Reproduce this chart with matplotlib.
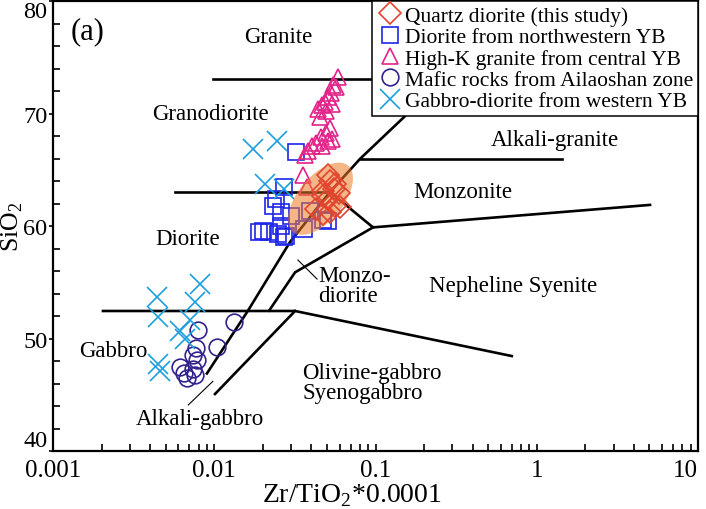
import numpy as np
import matplotlib.pyplot as plt
from matplotlib.ticker import LogLocator, FuncFormatter, MultipleLocator, NullFormatter

plt.rcParams['font.family'] = ['Liberation Serif', 'DejaVu Serif']
plt.rcParams['mathtext.fontset'] = 'custom'
plt.rcParams['mathtext.rm'] = 'Liberation Serif'

# Zr/TiO2*0.0001 (x) and SiO2 wt% (y)
qd_x = [0.051, 0.052, 0.056, 0.055, 0.047, 0.047, 0.051, 0.060, 0.043, 0.047, 0.052, 0.056, 0.059]
qd_y = [64.6, 64.0, 63.8, 63.3, 63.1, 62.7, 62.4, 61.7, 61.5, 61.1, 61.3, 61.8, 63.0]

nw_x = [0.032, 0.027, 0.024, 0.023, 0.026, 0.020, 0.019, 0.022, 0.025, 0.027,
        0.026, 0.030, 0.036, 0.039, 0.047, 0.051, 0.028]
nw_y = [66.6, 63.5, 62.4, 61.8, 61.3, 59.6, 59.5, 59.5, 59.3, 59.0,
        60.0, 60.9, 59.8, 61.4, 60.6, 60.5, 59.1]

hk_x = [0.0585, 0.0545, 0.053, 0.0507, 0.0486, 0.0466, 0.044, 0.0493, 0.0453, 0.0537, 0.0569,
        0.0522, 0.0493, 0.0459, 0.0507, 0.0428, 0.0404, 0.0382, 0.0365, 0.0466, 0.0537,
        0.0355, 0.0376]
hk_y = [73.3, 72.6, 71.9, 71.5, 71.1, 70.8, 70.4, 70.3, 69.7, 70.9, 72.4,
        68.7, 68.3, 67.9, 67.6, 67.4, 67.1, 66.7, 66.3, 67.1, 67.8,
        64.6, 63.5]

mf_x = [0.0079, 0.0133, 0.0104, 0.0077, 0.0074, 0.0078, 0.0074, 0.0061, 0.0065, 0.0076, 0.0068]
mf_y = [50.8, 51.5, 49.3, 49.2, 48.5, 48.1, 47.3, 47.5, 46.9, 46.8, 46.5]

gd_x = [0.0174, 0.0245, 0.0206, 0.0271, 0.0044, 0.0045, 0.0082, 0.0076, 0.0071,
        0.0061, 0.0066, 0.0045, 0.0046]
gd_y = [66.9, 67.6, 63.8, 63.3, 53.7, 51.9, 54.9, 53.3, 51.7,
        50.7, 50.0, 47.7, 47.1]

# tips of the shaded field around the quartz diorites
field_x = [0.0308, 0.0675]
field_y = [59.5, 65.4]

# classification boundaries (Winchester & Floyd type diagram)
bounds = [
    ([0.0098, 0.21], [73.1, 73.1]),
    ([0.0090, 0.0162, 0.0295, 0.0522, 0.0802, 0.1524, 0.21], [46.9, 52.5, 58.6, 63.05, 66.0, 69.8, 73.1]),
    ([0.0057, 0.0522], [63.05, 63.05]),
    ([0.0522, 0.0965, 5.04], [63.05, 59.9, 61.9]),
    ([0.0802, 1.44], [66.0, 66.0]),
    ([0.00204, 0.0317, 0.70], [52.46, 52.46, 48.45]),
    ([0.0101, 0.0317], [45.07, 52.46]),
    ([0.0219, 0.0317, 0.0965], [52.5, 55.9, 59.9]),
]
pointers = [
    ([0.0069, 0.0098], [44.1, 46.2]),
    ([0.0330, 0.0434], [57.0, 55.3]),
]

labels = [
    ('Granite', 0.0248, 76.9, 'center'),
    ('Granodiorite', 0.0094, 70.0, 'center'),
    ('Alkali-granite', 1.30, 67.7, 'center'),
    ('Monzonite', 0.349, 63.05, 'center'),
    ('Diorite', 0.0068, 58.9, 'center'),
    ('Monzo-\ndiorite', 0.044, 54.7, 'left'),
    ('Nepheline Syenite', 0.712, 54.7, 'center'),
    ('Gabbro', 0.00235, 48.9, 'center'),
    ('Olivine-gabbro\nSyenogabbro', 0.035, 46.1, 'left'),
    ('Alkali-gabbro', 0.0082, 42.85, 'center'),
]

fig = plt.figure(figsize=(7.06, 5.10), dpi=100)
ax = fig.add_axes([0.0751, 0.1137, 0.9136, 0.8814])
ax.set_xscale('log')
ax.set_xlim(0.001, 10)
ax.set_ylim(40, 80)

for xs, ys in bounds:
    ax.plot(xs, ys, color='black', lw=1.9, solid_joinstyle='miter', zorder=2)
for xs, ys in pointers:
    ax.plot(xs, ys, color='black', lw=0.8, zorder=2)

for txt, x, y, ha in labels:
    ax.text(x, y, txt, fontsize=16.5, ha=ha, va='center', linespacing=0.95, zorder=2)
ax.text(0.053, 0.934, '(a)', transform=ax.transAxes, fontsize=22, ha='center', va='center')

mk = dict(linestyle='none', mfc='none', mew=1.2)
ax.plot(nw_x, nw_y, marker='s', ms=12, mec='#1F25E8', label='Diorite from northwestern YB', zorder=3, **mk)
ax.plot(hk_x, hk_y, marker='^', ms=12, mec='#E4238A', label='High-K granite from central YB', zorder=3, **mk)
ax.plot(mf_x, mf_y, marker='o', ms=12, mec='#32228C', label='Mafic rocks from Ailaoshan zone', zorder=3, **mk)
ax.plot(gd_x, gd_y, marker='x', ms=14, mec='#1C9FDF', label='Gabbro-diorite from western YB', zorder=3, **mk)

# shaded field: ellipse built between the two tips in display space
p = ax.transData.transform(np.column_stack([field_x, field_y]))
c = p.mean(axis=0)
d = p[1] - p[0]
a = np.hypot(*d) / 2
b = a * 0.52
ang = np.arctan2(d[1], d[0])
t = np.linspace(0, 2 * np.pi, 200)
ex = c[0] + a * np.cos(t) * np.cos(ang) - b * np.sin(t) * np.sin(ang)
ey = c[1] + a * np.cos(t) * np.sin(ang) + b * np.sin(t) * np.cos(ang)
e = ax.transData.inverted().transform(np.column_stack([ex, ey]))
ax.fill(e[:, 0], e[:, 1], color='#EE7A24', alpha=0.55, lw=0, zorder=3.5)

ax.plot(qd_x, qd_y, marker='D', ms=11, mec='#E2452F', label='Quartz diorite (this study)', zorder=4, **mk)

h, l = ax.get_legend_handles_labels()
order = [4, 0, 1, 2, 3]
leg = ax.legend([h[i] for i in order], [l[i] for i in order], loc='upper right',
                bbox_to_anchor=(1.0, 1.0), borderaxespad=0, fontsize=15.5,
                handlelength=1.28, handletextpad=0.06, borderpad=0.2,
                labelspacing=0.06, fancybox=False, framealpha=1, edgecolor='black')
leg.get_frame().set_linewidth(1.1)
leg.set_zorder(6)

ax.xaxis.set_major_locator(LogLocator(base=10, numticks=10))
ax.xaxis.set_minor_locator(LogLocator(base=10, subs=np.arange(2, 10), numticks=10))
ax.xaxis.set_major_formatter(FuncFormatter(lambda v, pos: '%g' % v))
ax.xaxis.set_minor_formatter(NullFormatter())
ax.yaxis.set_major_locator(MultipleLocator(10))
ax.yaxis.set_minor_locator(MultipleLocator(2))

ax.tick_params(axis='x', which='both', direction='in', length=5, width=1.2, labelsize=18, pad=6)
ax.tick_params(axis='y', which='major', direction='out', length=3, width=1.2, labelsize=17.5, pad=1)
ax.tick_params(axis='y', which='minor', direction='in', length=5, width=1.2)
for s in ax.spines.values():
    s.set_linewidth(1.6)

ax.set_xlabel(r'Zr/TiO$_\mathregular{2}$*0.0001', fontsize=20)
ax.set_ylabel(r'SiO$_\mathregular{2}$', fontsize=18.5)
ax.xaxis.set_label_coords(0.464, -0.068)
ax.yaxis.set_label_coords(-0.044, 0.5)

# end labels are pulled inside the frame, as in the original
fig.canvas.draw()
for tk in ax.yaxis.get_major_ticks():
    if tk.get_loc() == 80:
        tk.label1.set_va('top')
    elif tk.get_loc() == 40:
        tk.label1.set_va('bottom')
for tk in ax.xaxis.get_major_ticks():
    if tk.get_loc() == 10:
        tk.label1.set_ha('right')

fig.savefig('out.png', dpi=100)
